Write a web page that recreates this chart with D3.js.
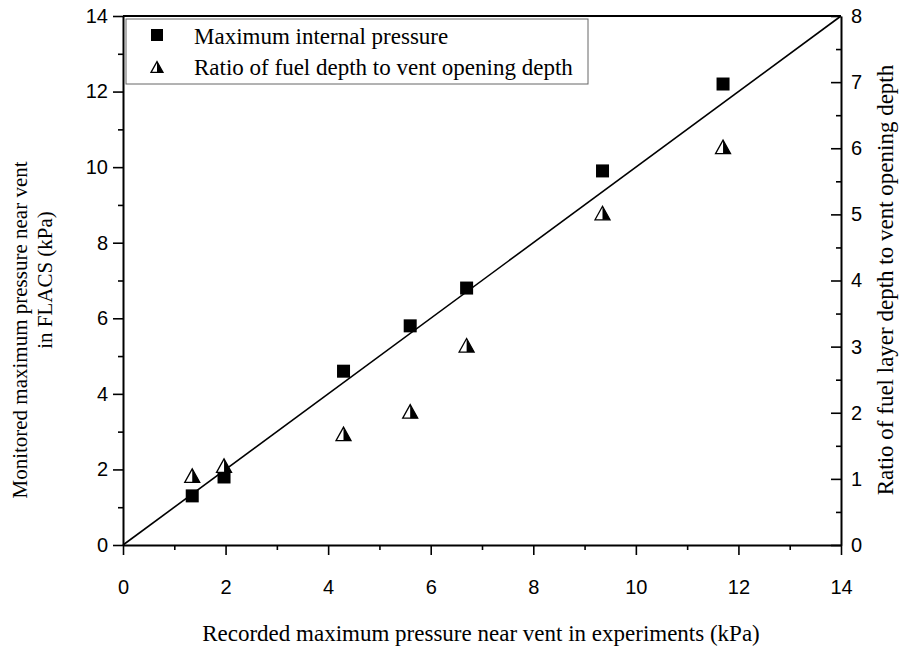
<!DOCTYPE html>
<html>
<head>
<meta charset="utf-8">
<script src="https://cdn.jsdelivr.net/npm/d3@7"></script>
<style>
  body { margin: 0; background: #fff; }
  .tick text { font-family: "Liberation Sans", Arial, sans-serif; font-size: 20px; fill: #000; }
  .ttl { font-family: "Liberation Serif", "Times New Roman", serif; font-size: 23px; fill: #000; }
</style>
</head>
<body>
<div id="chart"></div>
<script>
// recorded pressure in experiments (kPa)
var recorded = [1.35, 1.97, 4.3, 5.6, 6.7, 9.35, 11.7];
// monitored max pressure in FLACS (kPa)
var monitored = [1.3, 1.8, 4.6, 5.8, 6.8, 9.9, 12.2];
// ratio of fuel layer depth to vent opening depth
var ratio = [1.05, 1.2, 1.68, 2.02, 3.02, 5.02, 6.02];
var xTicks = [0, 2, 4, 6, 8, 10, 12, 14];
var yTicks = [0, 2, 4, 6, 8, 10, 12, 14];
var y2Ticks = [0, 1, 2, 3, 4, 5, 6, 7, 8];
var legendLabels = ["Maximum internal pressure", "Ratio of fuel depth to vent opening depth"];

var W = 902, H = 652;
var margin = {top: 16, right: 61, bottom: 107, left: 123};
var width = W - margin.left - margin.right;
var height = H - margin.top - margin.bottom;

var svg = d3.select("#chart").append("svg")
            .attr("width", W)
            .attr("height", H);

var g = svg.append("g")
           .attr("transform", "translate(" + margin.left + "," + margin.top + ")");

var x = d3.scaleLinear().domain([0, 14]).range([0, width]);
var y = d3.scaleLinear().domain([0, 14]).range([height, 0]);
var y2 = d3.scaleLinear().domain([0, 8]).range([height, 0]);

// minor ticks
g.append("g")
    .attr("transform", "translate(0," + height + ")")
    .call(d3.axisBottom(x).tickValues(d3.range(1, 14, 2)).tickSize(5).tickFormat(""))
    .call(function(a){ a.select(".domain").remove(); });
g.append("g")
    .call(d3.axisLeft(y).tickValues(d3.range(1, 14, 2)).tickSize(5).tickFormat(""))
    .call(function(a){ a.select(".domain").remove(); });
g.append("g")
    .attr("transform", "translate(" + width + ",0)")
    .call(d3.axisLeft(y2).tickValues(d3.range(0.5, 8, 1)).tickSize(5).tickFormat(""))
    .call(function(a){ a.select(".domain").remove(); });

// major axes
g.append("g")
    .attr("transform", "translate(0," + height + ")")
    .call(d3.axisBottom(x).tickValues(xTicks).tickSize(10).tickSizeOuter(0).tickPadding(25));
g.append("g")
    .call(d3.axisLeft(y).tickValues(yTicks).tickSize(10).tickSizeOuter(0).tickPadding(5));
g.append("g")
    .attr("transform", "translate(" + width + ",0)")
    .call(d3.axisRight(y2).tickValues(y2Ticks).tickSize(0).tickSizeOuter(0).tickPadding(10));
g.append("g")
    .attr("transform", "translate(" + width + ",0)")
    .call(d3.axisLeft(y2).tickValues(y2Ticks).tickSize(10).tickFormat(""))
    .call(function(a){ a.select(".domain").remove(); });

g.selectAll(".domain").attr("stroke-width", 2);
g.selectAll(".tick line").attr("stroke-width", 1.6);

// top frame
g.append("line")
    .attr("x1", 0).attr("x2", width)
    .attr("y1", 0).attr("y2", 0)
    .attr("stroke", "#000").attr("stroke-width", 2);

// y = x line
g.append("line")
    .attr("x1", x(0)).attr("y1", y(0))
    .attr("x2", x(14)).attr("y2", y(14))
    .attr("stroke", "#000").attr("stroke-width", 1.6);

// squares
var sq = 13;
g.selectAll(".sq")
    .data(recorded)
    .enter().append("rect")
    .attr("class", "sq")
    .attr("x", function(d){ return x(d) - sq / 2; })
    .attr("y", function(d, i){ return y(monitored[i]) - sq / 2; })
    .attr("width", sq).attr("height", sq)
    .attr("fill", "#000");

// half-filled triangles
function triangle(sel, cx, cy, s) {
  var h = s * 0.9;
  sel.append("path")
     .attr("d", "M" + cx + "," + (cy - h / 2) + "L" + (cx - s / 2) + "," + (cy + h / 2) + "L" + (cx + s / 2) + "," + (cy + h / 2) + "Z")
     .attr("fill", "#fff").attr("stroke", "#000").attr("stroke-width", 1.3);
  sel.append("path")
     .attr("d", "M" + cx + "," + (cy - h / 2) + "L" + cx + "," + (cy + h / 2) + "L" + (cx + s / 2) + "," + (cy + h / 2) + "Z")
     .attr("fill", "#000");
}
recorded.forEach(function(d, i) {
  triangle(g, x(d), y2(ratio[i]), 15);
});

// legend
var lg = g.append("g").attr("transform", "translate(3,3)");
lg.append("rect")
    .attr("width", 462).attr("height", 65)
    .attr("fill", "#fff").attr("stroke", "#666").attr("stroke-width", 1);
lg.append("rect")
    .attr("x", 31 - 6).attr("y", 16 - 6).attr("width", 12).attr("height", 12)
    .attr("fill", "#000");
triangle(lg, 31, 48, 12);
lg.selectAll(".lt")
    .data(legendLabels)
    .enter().append("text")
    .attr("class", "ttl")
    .attr("x", 68)
    .attr("y", function(d, i){ return 25 + i * 31; })
    .text(function(d){ return d; });

// axis titles
svg.append("text")
    .attr("class", "ttl")
    .attr("text-anchor", "middle")
    .attr("x", margin.left + width / 2 - 1)
    .attr("y", 641)
    .text("Recorded maximum pressure near vent in experiments (kPa)");

svg.append("text")
    .attr("class", "ttl")
    .attr("text-anchor", "middle")
    .style("font-size", "21px")
    .attr("transform", "translate(27,330)rotate(-90)")
    .text("Monitored maximum pressure near vent");
svg.append("text")
    .attr("class", "ttl")
    .attr("text-anchor", "middle")
    .style("font-size", "21px")
    .attr("transform", "translate(52,280)rotate(-90)")
    .text("in FLACS (kPa)");

svg.append("text")
    .attr("class", "ttl")
    .attr("text-anchor", "middle")
    .attr("transform", "translate(893,280)rotate(-90)")
    .text("Ratio of fuel layer depth to vent opening depth");
</script>
</body>
</html>
